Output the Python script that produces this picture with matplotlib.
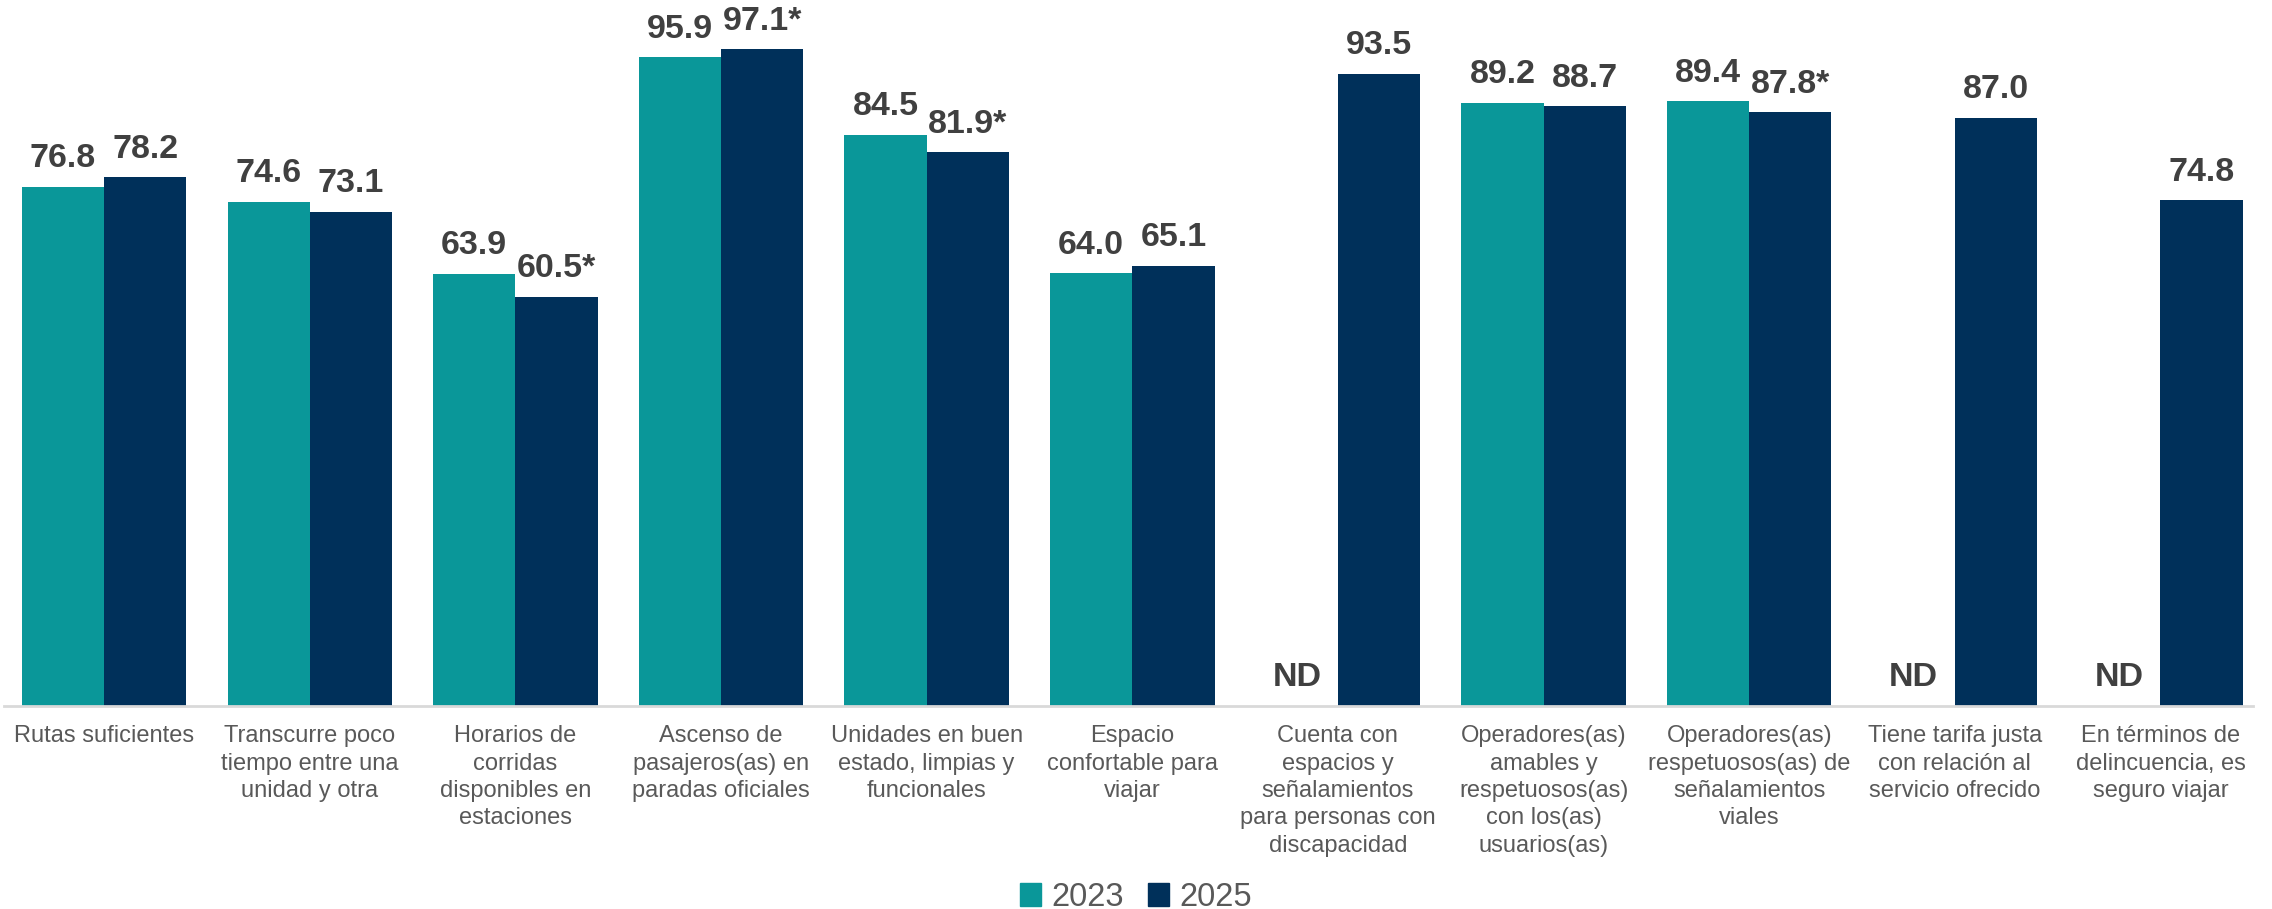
import numpy as np
import matplotlib.pyplot as plt
from matplotlib.patches import Patch

plt.rcParams['font.family'] = ['Liberation Sans', 'DejaVu Sans']

categories = [
    "Rutas suficientes",
    "Transcurre poco\ntiempo entre una\nunidad y otra",
    "Horarios de\ncorridas\ndisponibles en\nestaciones",
    "Ascenso de\npasajeros(as) en\nparadas oficiales",
    "Unidades en buen\nestado, limpias y\nfuncionales",
    "Espacio\nconfortable para\nviajar",
    "Cuenta con\nespacios y\nseñalamientos\npara personas con\ndiscapacidad",
    "Operadores(as)\namables y\nrespetuosos(as)\ncon los(as)\nusuarios(as)",
    "Operadores(as)\nrespetuosos(as) de\nseñalamientos\nviales",
    "Tiene tarifa justa\ncon relación al\nservicio ofrecido",
    "En términos de\ndelincuencia, es\nseguro viajar",
]
# None = no disponible (ND)
vals_2023 = [76.8, 74.6, 63.9, 95.9, 84.5, 64.0, None, 89.2, 89.4, None, None]
vals_2025 = [78.2, 73.1, 60.5, 97.1, 81.9, 65.1, 93.5, 88.7, 87.8, 87.0, 74.8]
# cambio estadisticamente significativo en 2025
sig_2025 = [False, False, True, True, True, False, False, False, True, False, False]

teal = '#0A9799'
navy = '#00305A'
label_color = '#404040'

fig = plt.figure(figsize=(22.72, 9.09), dpi=100)
ax = fig.add_axes([4 / 2272, 1 - 706 / 909, (2253 - 4) / 2272, 706 / 909])

x = np.arange(len(categories))
w = 0.4

h23 = [v if v is not None else 0 for v in vals_2023]
ax.bar(x - w / 2, h23, w, color=teal)
ax.bar(x + w / 2, vals_2025, w, color=navy)

lbl = dict(textcoords='offset points', ha='center', va='bottom',
           fontsize=24.5, fontweight='bold', color=label_color)
for i in range(len(categories)):
    v = vals_2023[i]
    if v is None:
        ax.annotate('ND', (x[i] - w / 2, 0), xytext=(0, 9), **lbl)
    else:
        ax.annotate(f'{v:.1f}', (x[i] - w / 2, v), xytext=(0, 9), **lbl)
    v = vals_2025[i]
    txt = f'{v:.1f}' + ('*' if sig_2025[i] else '')
    ax.annotate(txt, (x[i] + w / 2, v), xytext=(0, 9), **lbl)

ax.set_xlim(-0.487, 10.45)
ax.set_ylim(0, 104.4)
ax.set_xticks(x)
ax.set_xticklabels(categories, fontsize=17, color='#595959', linespacing=1.31)
ax.tick_params(axis='x', length=0, pad=14)
ax.set_yticks([])
for s in ['top', 'right', 'left']:
    ax.spines[s].set_visible(False)
ax.spines['bottom'].set_color('#D9D9D9')
ax.spines['bottom'].set_linewidth(2)

handles = [Patch(color=teal, label='2023'), Patch(color=navy, label='2025')]
fig.legend(handles=handles, loc='center', bbox_to_anchor=(0.5, 1 - 897 / 909), ncol=2,
           frameon=False, fontsize=23.5, handlelength=0.65, handleheight=0.7,
           handletextpad=0.3, columnspacing=0.75, labelcolor='#595959')

fig.savefig('out.png', dpi=100)
